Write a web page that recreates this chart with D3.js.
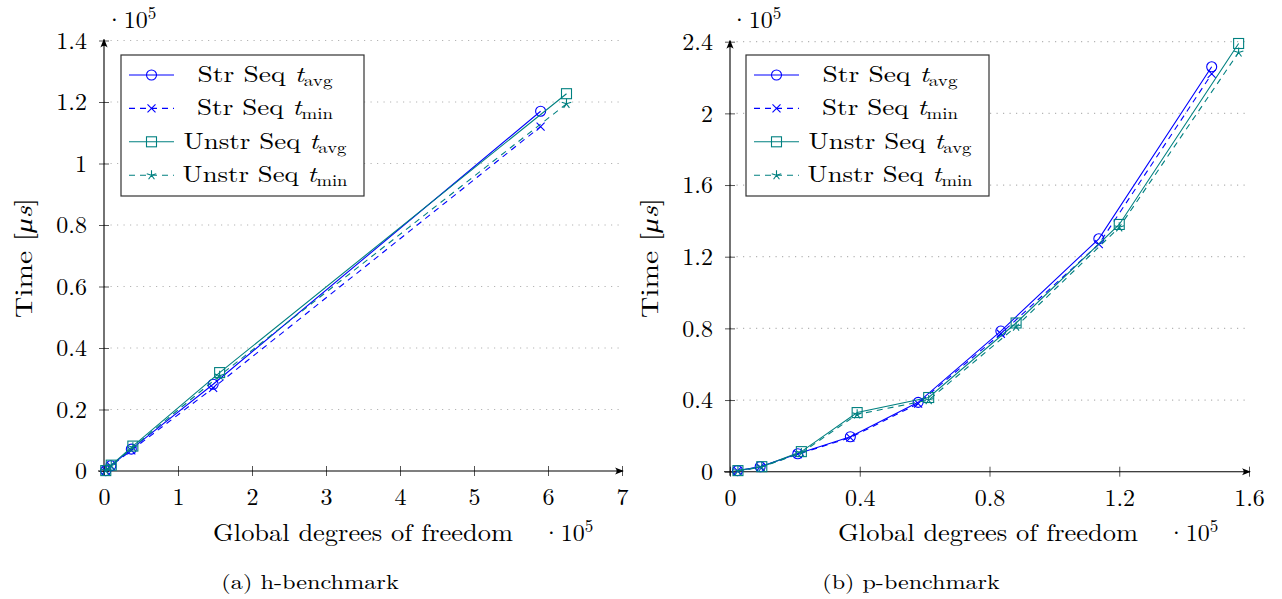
<!DOCTYPE html>
<html><head><meta charset="utf-8">
<script src="https://cdn.jsdelivr.net/npm/d3@7"></script>
<style>
html,body{margin:0;padding:0;background:#fff;}
svg{display:block;}
</style></head>
<body>
<svg id="chart" width="1282" height="599"></svg>
<script>
// ---------- data (x in 1e5 DOFs, y in 1e5 µs) ----------
const hStrX      = [0.023, 0.092, 0.369, 1.475, 5.9];
const hStrAvg    = [0.0012, 0.017, 0.071, 0.282, 1.17];
const hStrMin    = [0.0011, 0.016, 0.067, 0.27, 1.12];
const hUnstrX    = [0.024, 0.098, 0.39, 1.5625, 6.25];
const hUnstrAvg  = [0.0013, 0.019, 0.081, 0.32, 1.227];
const hUnstrMin  = [0.0012, 0.018, 0.077, 0.31, 1.194];

const pStrX      = [0.023, 0.093, 0.209, 0.371, 0.58, 0.835, 1.137, 1.485];
const pStrAvg    = [0.006, 0.028, 0.10, 0.195, 0.387, 0.785, 1.30, 2.26];
const pStrMin    = [0.004, 0.026, 0.098, 0.19, 0.38, 0.77, 1.27, 2.22];
const pUnstrX    = [0.0245, 0.098, 0.22, 0.392, 0.6125, 0.882, 1.2, 1.568];
const pUnstrAvg  = [0.006, 0.028, 0.112, 0.33, 0.414, 0.83, 1.38, 2.39];
const pUnstrMin  = [0.004, 0.026, 0.105, 0.32, 0.40, 0.81, 1.364, 2.34];

const hXTicks = [0,1,2,3,4,5,6,7];
const hXTickLabels = ["0","1","2","3","4","5","6","7"];
const hYTicks = [0,0.2,0.4,0.6,0.8,1,1.2,1.4];
const hYTickLabels = ["0","0.2","0.4","0.6","0.8","1","1.2","1.4"];
const pXTicks = [0,0.4,0.8,1.2,1.6];
const pXTickLabels = ["0","0.4","0.8","1.2","1.6"];
const pYTicks = [0,0.4,0.8,1.2,1.6,2,2.4];
const pYTickLabels = ["0","0.4","0.8","1.2","1.6","2","2.4"];

const seriesNames = ["Str Seq", "Str Seq", "Unstr Seq", "Unstr Seq"];
const seriesSubs  = ["avg", "min", "avg", "min"];
const captions = ["(a) h-benchmark", "(b) p-benchmark"];
const xLabel = "Global degrees of freedom";

const FONT = "'Latin Modern Roman','Liberation Serif',serif";
const BLUE = "#0000ff", TEAL = "#008080";
const styles = [
  {color: BLUE, dash: null, mark: "circle"},
  {color: BLUE, dash: "6,5", mark: "x"},
  {color: TEAL, dash: null, mark: "square"},
  {color: TEAL, dash: "6,5", mark: "star"}
];

const svg = d3.select("#chart");
const defs = svg.append("defs");
defs.append("marker").attr("id","arrow").attr("viewBox","0 0 10 10")
  .attr("refX",9).attr("refY",5).attr("markerWidth",9).attr("markerHeight",9)
  .attr("markerUnits","userSpaceOnUse").attr("orient","auto")
  .append("path").attr("d","M0,1 Q4,5 0,9 L10,5 Z").attr("fill","#000");

function fitText(t, w){
  const bb = t.node().getBBox();
  const sx = w / bb.width;
  t.attr("transform", `scale(${sx},1)`);
}

function drawMark(g, type, x, y, color){
  const s = 5;
  if(type==="circle"){
    g.append("circle").attr("cx",x).attr("cy",y).attr("r",s)
      .attr("fill","none").attr("stroke",color).attr("stroke-width",1.1);
  } else if(type==="square"){
    g.append("rect").attr("x",x-s).attr("y",y-s).attr("width",2*s).attr("height",2*s)
      .attr("fill","none").attr("stroke",color).attr("stroke-width",1.1);
  } else if(type==="x"){
    const a=4;
    g.append("path").attr("d",`M${x-a},${y-a}L${x+a},${y+a}M${x-a},${y+a}L${x+a},${y-a}`)
      .attr("stroke",color).attr("stroke-width",1.1).attr("fill","none");
  } else if(type==="star"){
    let d="";
    for(let i=0;i<5;i++){
      const ang = -Math.PI/2 + i*2*Math.PI/5;
      d += `M${x},${y}L${x+s*Math.cos(ang)},${y+s*Math.sin(ang)}`;
    }
    g.append("path").attr("d",d).attr("stroke",color).attr("stroke-width",1.1).attr("fill","none");
  }
}

function panel(cfg){
  const g = svg.append("g");
  const x = d3.scaleLinear().domain(cfg.xDomain).range(cfg.xRange);
  const y = d3.scaleLinear().domain(cfg.yDomain).range(cfg.yRange);

  // grid
  g.append("g").selectAll("line").data(cfg.yTicks.slice(1)).join("line")
    .attr("x1", cfg.xRange[0]).attr("x2", cfg.xRange[1])
    .attr("y1", d=>y(d)).attr("y2", d=>y(d))
    .attr("stroke","#b4b4b4").attr("stroke-width",1.2).attr("stroke-dasharray","1.2,5.3");

  // axes via d3
  const xAxis = d3.axisBottom(x).tickValues(cfg.xTicks)
    .tickFormat((d,i)=>cfg.xTickLabels[i]).tickSizeInner(5).tickSizeOuter(0).tickPadding(12);
  const gx = g.append("g").attr("transform",`translate(0,${cfg.yRange[0]})`).call(xAxis);
  gx.select(".domain").remove();
  gx.selectAll(".tick line").attr("y1",-5).attr("y2",5).attr("stroke","#555");
  gx.selectAll(".tick text").attr("font-size",24).style("font-family",FONT).attr("fill","#000");

  const yAxis = d3.axisLeft(y).tickValues(cfg.yTicks)
    .tickFormat((d,i)=>cfg.yTickLabels[i]).tickSizeInner(5).tickSizeOuter(0).tickPadding(12);
  const gy = g.append("g").attr("transform",`translate(${cfg.xRange[0]},0)`).call(yAxis);
  gy.select(".domain").remove();
  gy.selectAll(".tick line").attr("x1",-5).attr("x2",5).attr("stroke","#555");
  gy.selectAll(".tick text").attr("font-size",24).style("font-family",FONT).attr("fill","#000");

  // axis lines with arrows
  g.append("line").attr("x1",cfg.xRange[0]-6).attr("x2",cfg.xRange[1]+1)
    .attr("y1",cfg.yRange[0]).attr("y2",cfg.yRange[0])
    .attr("stroke","#000").attr("stroke-width",1.1).attr("marker-end","url(#arrow)");
  g.append("line").attr("x1",cfg.xRange[0]).attr("x2",cfg.xRange[0])
    .attr("y1",cfg.yRange[0]+4).attr("y2",cfg.yRange[1]-1)
    .attr("stroke","#000").attr("stroke-width",1.1).attr("marker-end","url(#arrow)");

  // series
  const line = d3.line().x(d=>x(d[0])).y(d=>y(d[1]));
  cfg.series.forEach((s,i)=>{
    const st = styles[i];
    const pts = s.x.map((v,j)=>[v, s.y[j]]);
    const sg = g.append("g");
    sg.append("path").attr("d", line(pts)).attr("fill","none")
      .attr("stroke", st.color).attr("stroke-width",1.1)
      .attr("stroke-dasharray", st.dash);
    pts.forEach(p=>drawMark(sg, st.mark, x(p[0]), y(p[1]), st.color));
  });

  // legend
  const L = cfg.legend;
  const lg = g.append("g");
  lg.append("rect").attr("x",L.x).attr("y",L.y).attr("width",L.w).attr("height",L.h)
    .attr("fill","#fff").attr("stroke","#333").attr("stroke-width",1.2);
  seriesNames.forEach((name,i)=>{
    const st = styles[i];
    const cy = L.y + 20 + i*33.4;
    lg.append("line").attr("x1",L.x+8).attr("x2",L.x+53).attr("y1",cy).attr("y2",cy)
      .attr("stroke",st.color).attr("stroke-width",1.1).attr("stroke-dasharray", st.dash);
    drawMark(lg, st.mark, L.x+30.5, cy, st.color);
    const tg = lg.append("g").attr("transform",`translate(${L.x+144},${cy+7})`);
    const t = tg.append("text").attr("text-anchor","middle").attr("font-size",23).style("font-family",FONT);
    t.append("tspan").text(name+" ");
    t.append("tspan").attr("font-style","italic").text("t");
    t.append("tspan").attr("font-size",16).attr("dy",4).text(seriesSubs[i]);
    fitText(t, L.textW[i]);
  });

  // y label
  const yl = g.append("g").attr("transform",`translate(${cfg.yLabelX},${cfg.yLabelY}) rotate(-90)`);
  const ylt = yl.append("text").attr("text-anchor","middle").attr("font-size",24).attr("dy","0.35em").style("font-family",FONT);
  ylt.append("tspan").text("Time [");
  ylt.append("tspan").attr("font-style","italic").text("μs");
  ylt.append("tspan").text("]");
  fitText(ylt, 120);

  // x label
  const xl = g.append("g").attr("transform",`translate(${cfg.xLabelX},${cfg.xLabelY})`);
  const xlt = xl.append("text").attr("text-anchor","middle").attr("font-size",24).style("font-family",FONT).text(xLabel);
  fitText(xlt, 300);

  // exponent labels
  function expo(px, py){
    const t = g.append("text").attr("x",px).attr("y",py).attr("font-size",24).style("font-family",FONT);
    t.append("tspan").text("·10");
    t.append("tspan").attr("font-size",17).attr("dy",-9).text("5");
  }
  expo(cfg.topExpo[0], cfg.topExpo[1]);
  expo(cfg.botExpo[0], cfg.botExpo[1]);

  // caption
  const cg = g.append("g").attr("transform",`translate(${cfg.capX},589)`);
  const ct = cg.append("text").attr("text-anchor","middle").attr("font-size",20).style("font-family",FONT).text(cfg.caption);
  fitText(ct, 178);
}

panel({
  xDomain:[0,7], xRange:[104,622], yDomain:[0,1.4], yRange:[471,40.5],
  xTicks:hXTicks, xTickLabels:hXTickLabels, yTicks:hYTicks, yTickLabels:hYTickLabels,
  series:[{x:hStrX,y:hStrAvg},{x:hStrX,y:hStrMin},{x:hUnstrX,y:hUnstrAvg},{x:hUnstrX,y:hUnstrMin}],
  legend:{x:121,y:55,w:243,h:141,textW:[135,136,163,165]},
  yLabelX:24, yLabelY:258, xLabelX:363, xLabelY:541,
  topExpo:[105,28], botExpo:[542,541], capX:310, caption:captions[0]
});
panel({
  xDomain:[0,1.6], xRange:[730,1249], yDomain:[0,2.4], yRange:[471.7,41.7],
  xTicks:pXTicks, xTickLabels:pXTickLabels, yTicks:pYTicks, yTickLabels:pYTickLabels,
  series:[{x:pStrX,y:pStrAvg},{x:pStrX,y:pStrMin},{x:pUnstrX,y:pUnstrAvg},{x:pUnstrX,y:pUnstrMin}],
  legend:{x:746,y:55,w:243,h:141,textW:[135,136,163,165]},
  yLabelX:650, yLabelY:258, xLabelX:988, xLabelY:541,
  topExpo:[730,28], botExpo:[1167,541], capX:911, caption:captions[1]
});
</script>
</body></html>
